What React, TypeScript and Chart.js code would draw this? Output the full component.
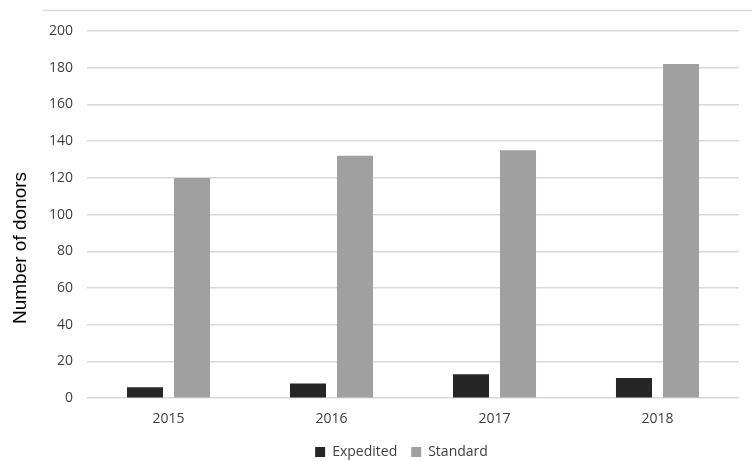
import React, { useEffect, useRef } from "react";
import { Chart, registerables } from "chart.js";

Chart.register(...registerables);

const categories = ["2015", "2016", "2017", "2018"];
const expedited = [6, 8, 13, 11];
const standard = [120, 132, 135, 182];
const seriesNames = ["Expedited", "Standard"];
const yTitle = "Number of donors";

const FONT = "'Open Sans', 'Liberation Sans', sans-serif";

const decorations = {
  id: "decorations",
  afterLayout(chart: any) {
    if (chart.legend) {
      chart.legend.left += 64;
    }
  },
  afterDraw(chart: any) {
    const ctx = chart.ctx;
    ctx.save();
    ctx.strokeStyle = "#d9d9d9";
    ctx.lineWidth = 1.5;
    ctx.beginPath();
    ctx.moveTo(43, 10.5);
    ctx.lineTo(752, 10.5);
    ctx.stroke();
    ctx.translate(21, 248);
    ctx.rotate(-Math.PI / 2);
    ctx.fillStyle = "#000000";
    ctx.font = "19px 'Liberation Sans', Arial, sans-serif";
    ctx.textAlign = "center";
    ctx.textBaseline = "middle";
    ctx.fillText(yTitle, 0, 0);
    ctx.restore();
  },
};

export default function App() {
  const ref = useRef<HTMLCanvasElement>(null);
  useEffect(() => {
    const chart = new Chart(ref.current!, {
      type: "bar",
      data: {
        labels: categories,
        datasets: [
          {
            label: seriesNames[0],
            data: expedited,
            backgroundColor: "#262626",
            categoryPercentage: 0.577,
            barPercentage: 0.766,
          },
          {
            label: seriesNames[1],
            data: standard,
            backgroundColor: "#a0a0a0",
            categoryPercentage: 0.577,
            barPercentage: 0.766,
          },
        ],
      },
      options: {
        responsive: false,
        animation: false,
        layout: { padding: { top: 31, right: 13, bottom: 0, left: 0 } },
        plugins: {
          legend: {
            position: "bottom",
            labels: {
              boxWidth: 10,
              boxHeight: 10,
              padding: 14,
              color: "#404040",
              font: { family: FONT, size: 14 },
            },
          },
          tooltip: { enabled: false },
        },
        scales: {
          x: {
            grid: { display: false },
            border: { display: false },
            ticks: {
              color: "#404040",
              padding: 4,
              font: { family: FONT, size: 14 },
            },
          },
          y: {
            min: 0,
            max: 200,
            ticks: {
              stepSize: 20,
              color: "#404040",
              padding: 14,
              font: { family: FONT, size: 14 },
            },
            grid: { color: "#d9d9d9", lineWidth: 1.5, drawTicks: false },
            border: { display: false },
            afterFit(scale: any) {
              scale.width = 87;
            },
          },
        },
      },
      plugins: [decorations],
    });
    return () => chart.destroy();
  }, []);
  return (
    <div style={{ position: "absolute", left: 0, top: 0, width: 752, height: 461, overflow: "hidden" }}>
      <canvas ref={ref} width={752} height={469} style={{ background: "#ffffff", display: "block" }} />
    </div>
  );
}
